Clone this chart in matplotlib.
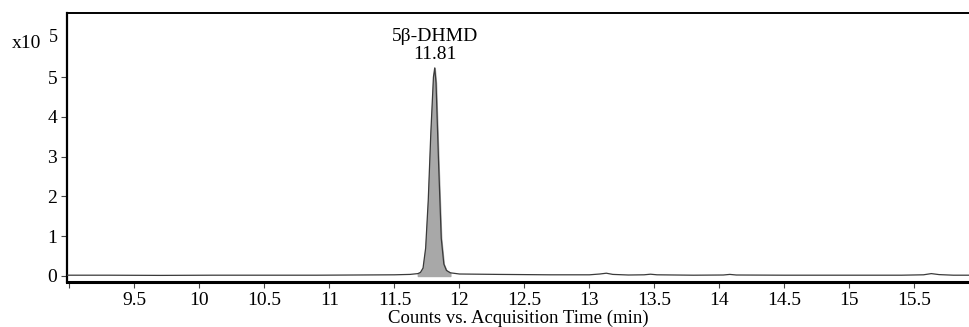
import matplotlib
matplotlib.use("Agg")
import matplotlib.pyplot as plt
import numpy as np

plt.rcParams['font.family'] = ['Liberation Serif', 'DejaVu Serif']

# Chromatogram trace (time in min, counts in units of 1e5)
time_min = [8.98, 9.3, 9.7, 10.1, 10.5, 10.9, 11.2, 11.5, 11.62, 11.68,
            11.70, 11.72, 11.74, 11.76, 11.78, 11.80, 11.81, 11.82, 11.84,
            11.86, 11.88, 11.90, 11.93, 12.0, 12.3, 12.7, 13.0, 13.08,
            13.13, 13.18, 13.3, 13.42, 13.47, 13.52, 13.8, 14.03, 14.08,
            14.13, 14.5, 15.0, 15.4, 15.57, 15.63, 15.69, 15.8, 15.92]
counts_e5 = [0.02, 0.02, 0.015, 0.02, 0.02, 0.02, 0.025, 0.03, 0.04, 0.06,
             0.09, 0.2, 0.7, 1.9, 3.6, 5.0, 5.23, 4.85, 2.8,
             0.95, 0.3, 0.14, 0.08, 0.05, 0.04, 0.03, 0.03, 0.05,
             0.07, 0.04, 0.025, 0.03, 0.045, 0.03, 0.02, 0.025, 0.04,
             0.025, 0.02, 0.02, 0.02, 0.03, 0.06, 0.035, 0.02, 0.02]

peak_label = "5β-DHMD"
peak_rt = 11.81
peak_start, peak_end = 11.68, 11.93

x_ticks = [9.5, 10, 10.5, 11, 11.5, 12, 12.5, 13, 13.5, 14, 14.5, 15, 15.5]
y_ticks = [0, 1, 2, 3, 4, 5]

fig = plt.figure(figsize=(9.69, 3.27), dpi=100)
ax = fig.add_axes([0.069, 0.1376, 0.931, 0.8224])

t = np.array(time_min)
c = np.array(counts_e5)
ax.plot(t, c, color='#3a3a3a', lw=0.9, zorder=3)
mask = (t >= peak_start) & (t <= peak_end)
ax.fill_between(t[mask], 0, c[mask], color='#a8a8a8', zorder=2)

ax.set_xlim(8.98, 15.92)
ax.set_ylim(-0.151, 6.608)

ax.set_xticks([9.0] + x_ticks)
ax.set_xticklabels([''] + [f"{v:g}" for v in x_ticks])
ax.set_yticks(y_ticks)
ax.set_yticklabels([str(v) for v in y_ticks])
ax.tick_params(axis='both', labelsize=14, length=4, width=0.8, color='#444444')
ax.tick_params(axis='x', pad=3)
ax.tick_params(axis='y', pad=3)

ax.spines['right'].set_visible(False)
ax.spines['left'].set_linewidth(1.6)
ax.spines['bottom'].set_linewidth(2.2)
ax.spines['top'].set_linewidth(1.4)

ax.set_xlabel("Counts vs. Acquisition Time (min)", fontsize=13.5, labelpad=1)

ax.text(peak_rt, max(counts_e5) + 0.13, f"{peak_label}\n{peak_rt:.2f}",
        ha='center', va='bottom', fontsize=14, linespacing=1.08)

fig.text(0.012, 0.868, "x10", fontsize=14, ha='left', va='center')
fig.text(0.050, 0.884, "5", fontsize=13, ha='left', va='center')

fig.savefig("out.png", dpi=100)
